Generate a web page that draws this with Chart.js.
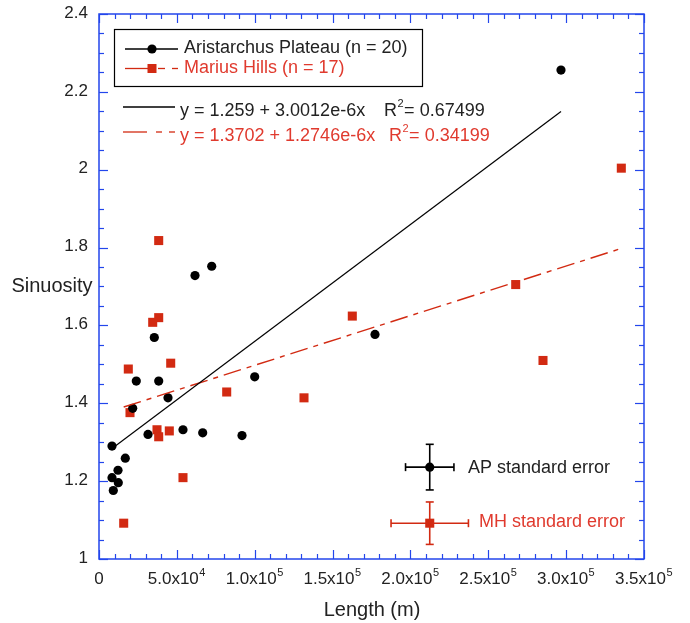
<!DOCTYPE html>
<html>
<head>
<meta charset="utf-8">
<script src="https://cdn.jsdelivr.net/npm/chart.js@4.4.1/dist/chart.umd.min.js"></script>
<style>
  body { margin: 0; background: #fff; }
  #wrap { width: 690px; height: 623px; }
</style>
</head>
<body>
<div id="wrap"><canvas id="sinuosity" width="690" height="623"></canvas></div>
<script>
// Aristarchus Plateau rilles (n = 20)
var apLength = [8350, 9180, 8350, 12200, 12390, 16890, 21640, 23950, 31470, 35510,
                38340, 44310, 53940, 61650, 66600, 72380, 91840, 99990, 177250, 296700];
var apSinuosity = [1.290, 1.176, 1.209, 1.228, 1.196, 1.259, 1.387, 1.457, 1.320, 1.569,
                   1.457, 1.414, 1.332, 1.728, 1.324, 1.752, 1.317, 1.468, 1.577, 2.256];

// Marius Hills rilles (n = 17)
var mhLength = [18820, 46050, 19910, 37250, 38340, 45150, 82010, 53940, 15860, 38340,
                38340, 34490, 162670, 131650, 267610, 285140, 335430];
var mhSinuosity = [1.488, 1.503, 1.376, 1.332, 1.314, 1.329, 1.429, 1.209, 1.092, 1.818,
                   1.620, 1.608, 1.624, 1.414, 1.705, 1.510, 2.004];

// fits as printed on the chart: [intercept, slope]
var apFit = [1.259, 3.0012e-6];
var mhFit = [1.3702, 1.2746e-6];

// standard error crosses: [x, y, x error, y error]
var apErr = [212400, 1.236, 15540, 0.0586];
var mhErr = [212400, 1.092, 24850, 0.0545];

var xTicks = [0, 50000, 100000, 150000, 200000, 250000, 300000, 350000];
var xTickLabels = [['0', ''], ['5.0x10', '4'], ['1.0x10', '5'], ['1.5x10', '5'],
                   ['2.0x10', '5'], ['2.5x10', '5'], ['3.0x10', '5'], ['3.5x10', '5']];
var yTicks = [1, 1.2, 1.4, 1.6, 1.8, 2, 2.2, 2.4];
var yTickLabels = ['1', '1.2', '1.4', '1.6', '1.8', '2', '2.2', '2.4'];

var RED = '#d22a12';
var RED_TXT = '#e03a2e';
var BLUE = '#2346ec';
var TXT = '#222';
var FONT = "'Liberation Sans', Arial, sans-serif";

function pts(xs, ys) {
  return xs.map(function (x, i) { return { x: x, y: ys[i] }; });
}
function fitLine(fit, xs) {
  var lo = Math.min.apply(null, xs), hi = Math.max.apply(null, xs);
  return [{ x: lo, y: fit[0] + fit[1] * lo }, { x: hi, y: fit[0] + fit[1] * hi }];
}

// text with a superscript piece; align = 'left' | 'center'
function supText(ctx, base, sup, x, y, size, align, rest) {
  ctx.font = size + 'px ' + FONT;
  var wb = ctx.measureText(base).width;
  ctx.font = Math.round(size * 0.62) + 'px ' + FONT;
  var ws = sup ? ctx.measureText(sup).width + 1 : 0;
  ctx.font = size + 'px ' + FONT;
  var wr = rest ? ctx.measureText(rest).width : 0;
  var x0 = align === 'center' ? x - (wb + ws + wr) / 2 : x;
  ctx.textAlign = 'left';
  ctx.textBaseline = 'middle';
  ctx.fillText(base, x0, y);
  if (sup) {
    ctx.font = Math.round(size * 0.62) + 'px ' + FONT;
    ctx.fillText(sup, x0 + wb + 0.5, y - size * 0.38);
  }
  if (rest) {
    ctx.font = size + 'px ' + FONT;
    ctx.fillText(rest, x0 + wb + ws, y);
  }
}

function seg(ctx, x1, y1, x2, y2) {
  ctx.beginPath(); ctx.moveTo(x1, y1); ctx.lineTo(x2, y2); ctx.stroke();
}

var decor = {
  id: 'decor',
  afterDatasetsDraw: function (chart) {
    var ctx = chart.ctx, a = chart.chartArea;
    var xs = chart.scales.x, ys = chart.scales.y;
    var i, p;
    ctx.save();

    // error crosses
    [[apErr, '#000'], [mhErr, RED]].forEach(function (e) {
      var v = e[0];
      var cx = xs.getPixelForValue(v[0]), cy = ys.getPixelForValue(v[1]);
      var xl = xs.getPixelForValue(v[0] - v[2]), xr = xs.getPixelForValue(v[0] + v[2]);
      var yt = ys.getPixelForValue(v[1] + v[3]), yb = ys.getPixelForValue(v[1] - v[3]);
      ctx.strokeStyle = e[1]; ctx.lineWidth = 1.6;
      seg(ctx, xl, cy, xr, cy);
      seg(ctx, cx, yt, cx, yb);
      seg(ctx, xl, cy - 4, xl, cy + 4);
      seg(ctx, xr, cy - 4, xr, cy + 4);
      seg(ctx, cx - 4, yt, cx + 4, yt);
      seg(ctx, cx - 4, yb, cx + 4, yb);
    });
    ctx.fillStyle = TXT;
    ctx.font = '18px ' + FONT;
    ctx.textAlign = 'left'; ctx.textBaseline = 'middle';
    ctx.fillText('AP standard error', 468, ys.getPixelForValue(apErr[1]) + 1);
    ctx.fillStyle = RED_TXT;
    ctx.fillText('MH standard error', 479, ys.getPixelForValue(mhErr[1]) - 1);

    // frame with inward ticks on all four sides
    ctx.strokeStyle = BLUE; ctx.lineWidth = 1.5;
    ctx.strokeRect(a.left, a.top, a.right - a.left, a.bottom - a.top);
    ctx.lineWidth = 1.2;
    for (i = 0; i <= 35; i++) {
      p = Math.round(xs.getPixelForValue(i * 10000)) + 0.5;
      var lx = i % 5 === 0 ? 9 : 5;
      seg(ctx, p, a.bottom, p, a.bottom - lx);
      seg(ctx, p, a.top, p, a.top + lx);
    }
    for (i = 0; i <= 28; i++) {
      p = Math.round(ys.getPixelForValue(1 + i * 0.05)) + 0.5;
      var ly = i % 4 === 0 ? 9 : 5;
      seg(ctx, a.left, p, a.left + ly, p);
      seg(ctx, a.right, p, a.right - ly, p);
    }

    // tick labels
    ctx.fillStyle = TXT;
    xTicks.forEach(function (t, k) {
      supText(ctx, xTickLabels[k][0], xTickLabels[k][1], xs.getPixelForValue(t), a.bottom + 20, 17, 'center');
    });
    ctx.font = '17px ' + FONT;
    ctx.textAlign = 'right'; ctx.textBaseline = 'middle';
    yTicks.forEach(function (t, k) {
      ctx.fillText(yTickLabels[k], a.left - 11, ys.getPixelForValue(t) - 1);
    });

    // axis titles
    ctx.font = '20px ' + FONT;
    ctx.textAlign = 'center';
    ctx.fillText('Length (m)', 372, 610);
    ctx.fillText('Sinuosity', 52, 286);

    // legend box
    ctx.fillStyle = '#fff';
    ctx.fillRect(114, 29, 309, 58);
    ctx.strokeStyle = '#000'; ctx.lineWidth = 1.2;
    ctx.strokeRect(114.5, 29.5, 308, 57);
    ctx.lineWidth = 1.3;
    seg(ctx, 125, 49, 178, 49);
    ctx.fillStyle = '#000';
    ctx.beginPath(); ctx.arc(152, 49, 4.6, 0, Math.PI * 2); ctx.fill();
    ctx.strokeStyle = RED;
    seg(ctx, 125, 68.5, 150, 68.5);
    seg(ctx, 158, 68.5, 165, 68.5);
    seg(ctx, 172, 68.5, 178, 68.5);
    ctx.fillStyle = RED;
    ctx.fillRect(147.5, 64, 9, 9);
    ctx.font = '18px ' + FONT;
    ctx.textAlign = 'left';
    ctx.fillStyle = TXT;
    ctx.fillText('Aristarchus Plateau (n = 20)', 184, 48);
    ctx.fillStyle = RED_TXT;
    ctx.fillText('Marius Hills (n = 17)', 184, 68);

    // fit equations
    ctx.strokeStyle = '#000'; ctx.lineWidth = 1.3;
    seg(ctx, 123, 107, 175, 107);
    ctx.strokeStyle = RED;
    seg(ctx, 123, 132, 147, 132);
    seg(ctx, 156, 132, 162, 132);
    seg(ctx, 169, 132, 175, 132);
    ctx.fillStyle = TXT;
    ctx.font = '18px ' + FONT;
    ctx.fillText('y = ' + apFit[0] + ' + 3.0012e-6x', 180, 111);
    supText(ctx, 'R', '2', 384, 111, 18, 'left', '= 0.67499');
    ctx.fillStyle = RED_TXT;
    ctx.font = '18px ' + FONT;
    ctx.fillText('y = ' + mhFit[0] + ' + 1.2746e-6x', 180, 136);
    supText(ctx, 'R', '2', 389, 136, 18, 'left', '= 0.34199');

    ctx.restore();
  }
};

var chart = new Chart(document.getElementById('sinuosity').getContext('2d'), {
  type: 'scatter',
  data: {
    datasets: [{
      label: 'AP fit',
      type: 'line',
      data: fitLine(apFit, apLength),
      borderColor: '#000',
      borderWidth: 1.2,
      pointRadius: 0,
      fill: false
    }, {
      label: 'MH fit',
      type: 'line',
      data: fitLine(mhFit, mhLength),
      borderColor: RED,
      borderWidth: 1.4,
      borderDash: [18, 6, 5, 6],
      pointRadius: 0,
      fill: false
    }, {
      label: 'Aristarchus Plateau (n = 20)',
      data: pts(apLength, apSinuosity),
      pointStyle: 'circle',
      pointRadius: 4.6,
      backgroundColor: '#000',
      borderColor: '#000',
      borderWidth: 0
    }, {
      label: 'Marius Hills (n = 17)',
      data: pts(mhLength, mhSinuosity),
      pointStyle: 'rect',
      pointRadius: 6.4,
      backgroundColor: RED,
      borderColor: RED,
      borderWidth: 0
    }, {
      label: 'AP standard error',
      data: [{ x: apErr[0], y: apErr[1] }],
      pointStyle: 'circle',
      pointRadius: 4.6,
      backgroundColor: '#000',
      borderWidth: 0
    }, {
      label: 'MH standard error',
      data: [{ x: mhErr[0], y: mhErr[1] }],
      pointStyle: 'rect',
      pointRadius: 6.4,
      backgroundColor: RED,
      borderWidth: 0
    }]
  },
  options: {
    responsive: false,
    animation: false,
    devicePixelRatio: 1,
    layout: { padding: { left: 99, right: 46, top: 14, bottom: 64 } },
    plugins: {
      legend: { display: false },
      tooltip: { enabled: false }
    },
    scales: {
      x: { type: 'linear', min: 0, max: 350000, display: false },
      y: { type: 'linear', min: 1, max: 2.4, display: false }
    }
  },
  plugins: [decor]
});
</script>
</body>
</html>
